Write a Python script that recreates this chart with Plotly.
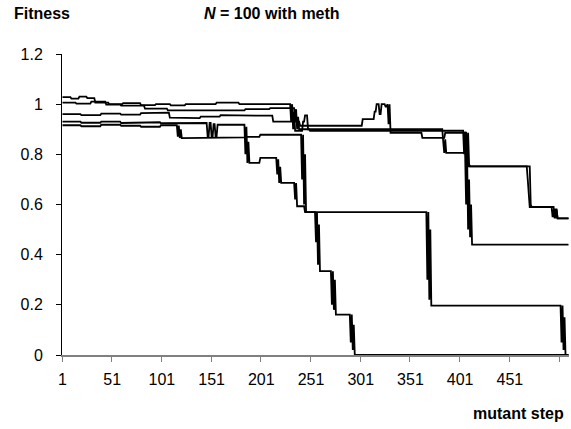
import plotly.graph_objects as go

# Mutant step axis
steps_total = 510
x_tick_labels = ["1", "51", "101", "151", "201", "251", "301", "351", "401", "451"]
y_tick_values = [0, 0.2, 0.4, 0.6, 0.8, 1.0, 1.2]
y_tick_labels = ["0", "0.2", "0.4", "0.6", "0.8", "1", "1.2"]

# Each replicate: (mutant step where value starts, fitness)
rep1 = [(1, 1.028), (10, 1.022), (18, 1.03), (26, 1.024), (34, 1.006), (48, 1.0), (62, 1.004),
        (80, 0.996), (95, 1.0), (110, 0.995), (125, 1.0), (156, 1.006), (179, 1.0),
        (231, 0.93), (232, 1.0), (233, 0.9), (234, 0.97), (235, 0.894), (243, 0.93), (245, 0.955),
        (248, 0.9), (250, 0.894), (405, 0.8), (406, 0.89), (407, 0.76), (408, 0.85), (409, 0.752),
        (469, 0.7), (470, 0.62), (471, 0.59), (496, 0.55), (497, 0.58), (499, 0.545)]
rep2 = [(1, 1.006), (15, 1.002), (30, 1.01), (45, 0.998), (60, 0.994), (84, 0.982), (107, 0.975),
        (135, 0.978), (160, 0.975), (185, 0.98), (210, 0.984), (235, 0.93), (236, 0.98), (237, 0.9),
        (238, 0.95), (239, 0.9), (384, 0.85), (385, 0.806), (386, 0.86), (387, 0.806),
        (407, 0.6), (408, 0.8), (409, 0.5), (410, 0.7), (411, 0.47), (412, 0.6), (413, 0.44)]
rep3 = [(1, 0.96), (20, 0.956), (40, 0.962), (60, 0.958), (80, 0.964), (100, 0.966), (109, 0.946),
        (125, 0.944), (140, 0.95), (160, 0.956), (183, 0.954), (213, 0.93), (240, 0.914),
        (303, 0.94), (315, 0.97), (317, 1.0), (320, 0.96), (322, 1.0), (326, 0.99), (328, 1.0),
        (329, 0.92), (330, 1.0), (331, 0.886), (363, 0.866), (386, 0.886),
        (408, 0.8), (409, 0.886), (410, 0.76), (411, 0.752), (472, 0.6), (473, 0.59),
        (494, 0.55), (495, 0.58), (496, 0.548), (498, 0.58), (499, 0.545)]
rep4 = [(1, 0.93), (20, 0.926), (40, 0.93), (60, 0.925), (80, 0.928), (100, 0.924), (119, 0.925),
        (147, 0.872), (149, 0.925), (151, 0.87), (153, 0.92), (155, 0.872), (157, 0.918),
        (185, 0.8), (186, 0.91), (187, 0.766), (188, 0.85), (189, 0.766), (200, 0.786),
        (217, 0.72), (218, 0.78), (219, 0.686), (220, 0.75), (221, 0.686),
        (235, 0.62), (236, 0.686), (237, 0.593), (245, 0.57),
        (256, 0.45), (257, 0.57), (258, 0.36), (259, 0.52), (260, 0.334),
        (272, 0.2), (273, 0.334), (274, 0.18), (275, 0.3), (276, 0.161),
        (291, 0.05), (292, 0.161), (293, 0.02), (294, 0.12), (295, 0.0)]
rep5 = [(1, 0.916), (20, 0.912), (40, 0.918), (60, 0.914), (80, 0.91), (100, 0.916),
        (117, 0.87), (118, 0.915), (119, 0.865), (120, 0.9), (121, 0.865),
        (150, 0.868), (185, 0.87), (200, 0.878),
        (242, 0.7), (243, 0.878), (244, 0.6), (245, 0.8), (246, 0.57),
        (368, 0.3), (369, 0.57), (370, 0.22), (371, 0.5), (372, 0.197),
        (503, 0.05), (504, 0.197), (505, 0.02), (506, 0.15), (507, 0.0)]

replicates = [rep1, rep2, rep3, rep4, rep5]


def expand(breaks):
    xs, ys = [], []
    j = 0
    for s in range(1, steps_total + 1):
        while j + 1 < len(breaks) and breaks[j + 1][0] <= s:
            j += 1
        xs.append(s)
        ys.append(breaks[j][1])
    return xs, ys


fig = go.Figure()
for rep in replicates:
    xs, ys = expand(rep)
    fig.add_trace(go.Scatter(x=xs, y=ys, mode="lines",
                             line=dict(color="black", width=1.8), showlegend=False,
                             hoverinfo="skip", cliponaxis=False))

font_family = "Liberation Sans, Arial, sans-serif"
fig.update_layout(
    width=571, height=429,
    margin=dict(l=62, r=2, t=54, b=74, autoexpand=False),
    paper_bgcolor="white", plot_bgcolor="white",
    font=dict(family=font_family, size=16, color="black"),
    xaxis=dict(range=[0.5, steps_total + 0.5], showgrid=False, zeroline=False, automargin=False,
               showline=True, linecolor="#808080", linewidth=1.5,
               tickmode="array", tickvals=[int(t) for t in x_tick_labels], ticktext=x_tick_labels,
               ticks="", ticklabelstandoff=9,
               minor=dict(tickmode="array", tickvals=[0.5 + 50 * k for k in range(11)],
                          ticks="outside", ticklen=5, tickcolor="#808080", tickwidth=1)),
    yaxis=dict(range=[0, 1.2], showgrid=False, zeroline=False, automargin=False,
               showline=True, linecolor="black", linewidth=1,
               tickmode="array", tickvals=y_tick_values, ticktext=y_tick_labels,
               ticks="outside", ticklen=5, tickcolor="black", ticklabelstandoff=10),
    annotations=[
        dict(text="<b>Fitness</b>", xref="paper", yref="paper", x=(42 - 62) / 507, y=(355 - 13) / 301,
             xanchor="center", yanchor="middle", showarrow=False, font=dict(size=16)),
        dict(text="<b><i>N</i> = 100 with meth</b>", xref="paper", yref="paper",
             x=(272 - 62) / 507, y=(355 - 13) / 301,
             xanchor="center", yanchor="middle", showarrow=False, font=dict(size=16)),
        dict(text="<b>mutant step</b>", xref="paper", yref="paper", x=(518 - 62) / 507,
             y=(355 - 413) / 301, xanchor="center", yanchor="middle", showarrow=False,
             font=dict(size=16)),
    ],
)

fig.write_html("out.html", config={"displayModeBar": False},
               post_script="document.body.style.margin='0';document.body.style.padding='0';")
